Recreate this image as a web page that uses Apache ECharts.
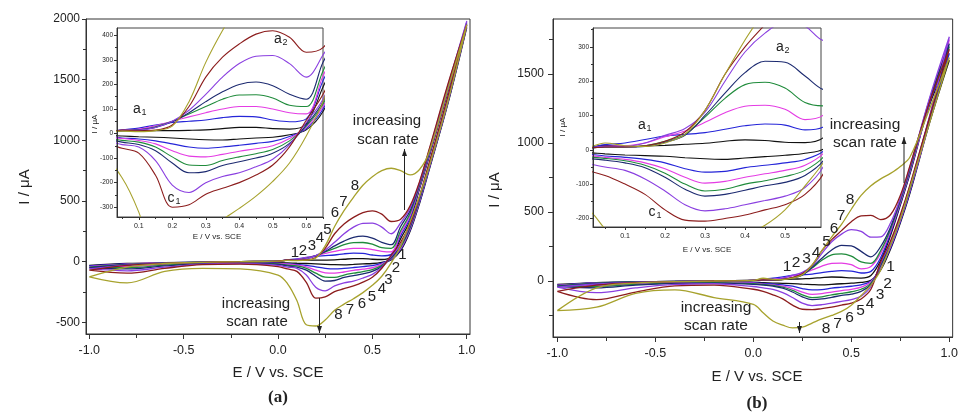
<!DOCTYPE html>
<html><head><meta charset="utf-8">
<script src="https://cdn.jsdelivr.net/npm/echarts@6/dist/echarts.min.js"></script>
<style>html,body{margin:0;padding:0;background:#fff}#c{width:961px;height:415px}</style>
</head><body><div id="c"></div>
<script>
// ---------- DATA ----------
// potential grid (V vs. SCE) shared by every curve
const X_GRID = [-1.0, -0.8, -0.6, -0.4, -0.2, 0.0, 0.05, 0.1, 0.15, 0.2, 0.25, 0.3, 0.35, 0.4, 0.45, 0.5, 0.55, 0.6, 0.65, 0.7, 0.75, 0.8, 0.9, 1.0];

// Panel (a): anodic (forward) branch currents, µA
const A1_UP = [-30, -15, -8, -3, 0, 5, 12, 12, 12, 12, 13, 15, 20, 25, 25, 20, 18, 40, 190, 340, 600, 860, 1400, 1930];
const A2_UP = [-35, -18, -10, -4, 0, 5, 15, 22, 35, 45, 50, 55, 65, 70, 68, 55, 48, 60, 215, 360, 610, 870, 1410, 1940];
const A3_UP = [-40, -20, -10, -5, 0, 5, 13, 18, 32, 50, 68, 85, 100, 110, 110, 100, 85, 80, 235, 380, 620, 880, 1420, 1950];
const A4_UP = [-45, -22, -12, -5, 0, 5, 12, 15, 28, 50, 80, 110, 140, 157, 158, 145, 115, 110, 255, 400, 630, 890, 1430, 1960];
const A5_UP = [-50, -25, -12, -5, 0, 5, 12, 15, 25, 48, 85, 130, 170, 200, 210, 195, 160, 140, 290, 420, 640, 900, 1440, 1970];
const A6_UP = [-60, -28, -14, -6, 0, 5, 12, 14, 25, 50, 95, 160, 230, 285, 315, 318, 285, 230, 320, 440, 650, 910, 1450, 1980];
const A7_UP = [-70, -30, -15, -6, 0, 5, 14, 11, 14, 35, 110, 230, 311, 365, 405, 419, 392, 331, 350, 460, 660, 920, 1460, 1950];
const A8_UP = [-125, -45, -15, -5, 0, 5, 10, 8, 12, 30, 130, 290, 420, 530, 630, 700, 750, 770, 750, 715, 760, 900, 1420, 1950];
// Panel (a): cathodic (reverse) branch currents, µA
const A1_DOWN = [-30, -25, -15, -8, -5, -8, -10, -13, -15, -18, -22, -25, -26, -22, -18, -15, -5, 15, 90, 250, 480, 750, 1300, 1930];
const A2_DOWN = [-35, -30, -18, -10, -7, -12, -18, -22, -30, -42, -55, -60, -55, -48, -40, -32, -12, 20, 100, 260, 490, 760, 1310, 1940];
const A3_DOWN = [-40, -40, -22, -12, -8, -15, -20, -28, -42, -70, -92, -95, -85, -72, -62, -50, -20, 25, 110, 270, 500, 770, 1320, 1950];
const A4_DOWN = [-45, -50, -28, -14, -10, -18, -28, -35, -55, -95, -128, -130, -110, -95, -82, -65, -30, 30, 120, 280, 510, 780, 1330, 1960];
const A5_DOWN = [-50, -60, -35, -16, -12, -22, -35, -45, -70, -120, -160, -155, -130, -115, -100, -80, -40, 35, 130, 290, 520, 790, 1340, 1970];
const A6_DOWN = [-60, -75, -45, -20, -15, -30, -45, -55, -110, -210, -240, -200, -175, -160, -135, -105, -45, 45, 140, 300, 530, 800, 1350, 1980];
const A7_DOWN = [-70, -95, -55, -25, -20, -40, -60, -80, -170, -300, -290, -247, -223, -200, -169, -128, -54, 54, 160, 310, 540, 810, 1360, 1950];
const A8_DOWN = [-125, -175, -80, -55, -60, -110, -180, -320, -520, -530, -480, -400, -350, -305, -255, -195, -120, -10, 130, 330, 540, 780, 1320, 1950];

// Panel (b): anodic branch currents, µA
const B1_UP = [-25, -12, -6, -3, 0, 5, 13, 10, 11, 13, 16, 19, 25, 29, 27, 22, 21, 40, 150, 330, 550, 780, 1280, 1600];
const B2_UP = [-30, -14, -6, -3, 0, 5, 15, 20, 30, 40, 45, 50, 60, 70, 75, 72, 58, 70, 170, 345, 560, 790, 1290, 1650];
const B3_UP = [-32, -15, -7, -3, 0, 5, 10, 12, 20, 38, 55, 80, 108, 127, 130, 118, 88, 105, 200, 360, 570, 800, 1300, 1750];
const B4_UP = [-35, -16, -7, -3, 0, 5, 8, 8, 12, 25, 45, 95, 150, 190, 197, 180, 138, 128, 220, 375, 580, 810, 1310, 1700];
const B5_UP = [-40, -18, -8, -3, 0, 5, 8, 8, 10, 22, 42, 100, 165, 225, 258, 255, 215, 175, 250, 390, 590, 820, 1320, 1720];
const B6_UP = [-45, -22, -10, -4, 0, 5, 10, 10, 20, 42, 62, 110, 200, 285, 340, 372, 360, 318, 320, 420, 600, 830, 1330, 1770];
const B7_UP = [-75, -30, -12, -5, 0, 5, 8, 8, 12, 25, 52, 115, 220, 300, 365, 430, 472, 475, 445, 480, 620, 840, 1300, 1680];
const B8_UP = [-215, -50, -15, -5, 0, 5, 20, 12, 10, 20, 45, 115, 220, 320, 410, 520, 620, 690, 740, 780, 830, 900, 1250, 1620];
// Panel (b): cathodic branch currents, µA
const B1_DOWN = [-25, -25, -15, -8, -6, -8, -12, -15, -17, -19, -23, -26, -28, -24, -20, -16, -10, 5, 80, 230, 420, 640, 1150, 1600];
const B2_DOWN = [-30, -30, -18, -10, -8, -12, -18, -22, -28, -38, -55, -65, -63, -52, -45, -38, -28, 0, 90, 240, 430, 650, 1160, 1650];
const B3_DOWN = [-32, -35, -22, -12, -10, -16, -22, -28, -38, -55, -80, -97, -92, -80, -70, -60, -45, -5, 100, 250, 440, 660, 1170, 1750];
const B4_DOWN = [-35, -40, -25, -15, -12, -20, -25, -32, -45, -68, -100, -120, -115, -100, -90, -78, -60, -15, 110, 260, 450, 670, 1180, 1700];
const B5_DOWN = [-40, -50, -30, -18, -15, -25, -30, -38, -52, -80, -115, -135, -130, -118, -105, -95, -75, -25, 120, 270, 460, 680, 1190, 1720];
const B6_DOWN = [-45, -85, -50, -25, -20, -40, -50, -60, -85, -120, -160, -178, -172, -160, -148, -135, -110, -40, 130, 280, 470, 690, 1200, 1770];
const B7_DOWN = [-75, -135, -80, -35, -30, -60, -75, -100, -130, -175, -205, -208, -200, -190, -175, -160, -130, -60, 140, 290, 480, 700, 1190, 1680];
const B8_DOWN = [-215, -190, -90, -65, -120, -170, -230, -290, -320, -340, -335, -305, -275, -250, -220, -175, -105, -30, 80, 260, 450, 680, 1150, 1620];

// tick values
const MAIN_X_LABELS = [-1.0, -0.5, 0.0, 0.5, 1.0];
const MAIN_X_MINOR = [-0.75, -0.25, 0.25, 0.75];
const A_Y_LABELS = [-500, 0, 500, 1000, 1500, 2000];
const A_Y_MINOR = [-250, 250, 750, 1250, 1750];
const B_Y_LABELS = [0, 500, 1000, 1500];
const B_Y_MINOR = [-250, 250, 750, 1250, 1750];
const A_IN_X_LABELS = [0.1, 0.2, 0.3, 0.4, 0.5, 0.6];
const A_IN_X_MINOR = [0.05, 0.15, 0.25, 0.35, 0.45, 0.55, 0.65];
const A_IN_Y_LABELS = [-300, -200, -100, 0, 100, 200, 300, 400];
const A_IN_Y_MINOR = [-250, -150, -50, 50, 150, 250, 350];
const B_IN_X_LABELS = [0.1, 0.2, 0.3, 0.4, 0.5];
const B_IN_X_MINOR = [0.05, 0.15, 0.25, 0.35, 0.45, 0.55];
const B_IN_Y_LABELS = [-200, -100, 0, 100, 200, 300];
const B_IN_Y_MINOR = [-150, -50, 50, 150, 250, 350];

// curve labels (scan-rate numbers)
const CURVE_NAMES = ['1', '2', '3', '4', '5', '6', '7', '8'];

// ---------- STYLE ----------
const COLORS = ['#111111', '#2525d8', '#e43ce4', '#1f8b3b', '#1c2a70', '#8a3fe0', '#8c1d1d', '#a7a22d'];
const FONT = '"Liberation Sans", Arial, sans-serif';

const A_UP = [A1_UP, A2_UP, A3_UP, A4_UP, A5_UP, A6_UP, A7_UP, A8_UP];
const A_DOWN = [A1_DOWN, A2_DOWN, A3_DOWN, A4_DOWN, A5_DOWN, A6_DOWN, A7_DOWN, A8_DOWN];
const B_UP = [B1_UP, B2_UP, B3_UP, B4_UP, B5_UP, B6_UP, B7_UP, B8_UP];
const B_DOWN = [B1_DOWN, B2_DOWN, B3_DOWN, B4_DOWN, B5_DOWN, B6_DOWN, B7_DOWN, B8_DOWN];

function loop(up, down) {
  const pts = X_GRID.map((x, i) => [x, up[i]]);
  for (let i = X_GRID.length - 1; i >= 0; i--) pts.push([X_GRID[i], down[i]]);
  return pts;
}

const grids = [
  { left: 86, top: 19, width: 384, height: 315, show: true, borderColor: '#333', borderWidth: 1, z: 0 },
  { left: 117, top: 28, width: 206, height: 189, show: true, backgroundColor: '#fff', borderColor: '#444', borderWidth: 1, z: 10 },
  { left: 553, top: 19, width: 405, height: 318, show: true, borderColor: '#333', borderWidth: 1, z: 0 },
  { left: 593, top: 28, width: 228, height: 199, show: true, backgroundColor: '#fff', borderColor: '#444', borderWidth: 1, z: 10 }
];

function axis(o) {
  return {
    type: 'value', gridIndex: o.grid, min: o.min, max: o.max, position: o.pos, z: o.z || 1,
    axisLine: { show: !!o.line, onZero: false, lineStyle: { color: '#333', width: 1 } },
    axisTick: { show: true, inside: false, length: o.tl, customValues: o.ticks, lineStyle: { color: '#333', width: 1 } },
    axisLabel: o.labels ? { show: true, customValues: o.labels, margin: o.margin, fontSize: o.fs, color: '#222', fontFamily: FONT,
      formatter: o.fmt } : { show: false },
    splitLine: { show: false }
  };
}
const f1 = v => (Math.abs(v) < 1e-9 ? 0 : v).toFixed(1);
const f0 = v => String(Math.round(v));

const xAxes = [
  axis({ grid: 0, min: -1.0175, max: 1.0175, pos: 'bottom', line: true, tl: 5, ticks: MAIN_X_LABELS, labels: MAIN_X_LABELS, margin: 10, fs: 12.5, fmt: f1 }),
  axis({ grid: 0, min: -1.0175, max: 1.0175, pos: 'bottom', tl: 4, ticks: MAIN_X_MINOR }),
  axis({ grid: 1, min: 0.035, max: 0.65, pos: 'bottom', line: true, tl: 3, ticks: A_IN_X_LABELS, labels: A_IN_X_LABELS, margin: 6, fs: 7, fmt: f1, z: 12 }),
  axis({ grid: 1, min: 0.035, max: 0.65, pos: 'bottom', tl: 2, ticks: A_IN_X_MINOR, z: 12 }),
  axis({ grid: 2, min: -1.022, max: 1.017, pos: 'bottom', line: true, tl: 5, ticks: MAIN_X_LABELS, labels: MAIN_X_LABELS, margin: 10, fs: 12.5, fmt: f1 }),
  axis({ grid: 2, min: -1.022, max: 1.017, pos: 'bottom', tl: 4, ticks: MAIN_X_MINOR }),
  axis({ grid: 3, min: 0.02, max: 0.59, pos: 'bottom', line: true, tl: 3, ticks: B_IN_X_LABELS, labels: B_IN_X_LABELS, margin: 6, fs: 7, fmt: f1, z: 12 }),
  axis({ grid: 3, min: 0.02, max: 0.59, pos: 'bottom', tl: 2, ticks: B_IN_X_MINOR, z: 12 })
];
const yAxes = [
  axis({ grid: 0, min: -596, max: 2000, pos: 'left', line: true, tl: 4, ticks: A_Y_LABELS, labels: A_Y_LABELS, margin: 6, fs: 12, fmt: f0 }),
  axis({ grid: 0, min: -596, max: 2000, pos: 'left', tl: 3, ticks: A_Y_MINOR }),
  axis({ grid: 1, min: -340, max: 430, pos: 'left', line: true, tl: 3, ticks: A_IN_Y_LABELS, labels: A_IN_Y_LABELS, margin: 4, fs: 6.5, fmt: f0, z: 12 }),
  axis({ grid: 1, min: -340, max: 430, pos: 'left', tl: 2, ticks: A_IN_Y_MINOR, z: 12 }),
  axis({ grid: 2, min: -406, max: 1899, pos: 'left', line: true, tl: 5, ticks: B_Y_LABELS, labels: B_Y_LABELS, margin: 9, fs: 12, fmt: f0 }),
  axis({ grid: 2, min: -406, max: 1899, pos: 'left', tl: 4, ticks: B_Y_MINOR }),
  axis({ grid: 3, min: -225, max: 355, pos: 'left', line: true, tl: 3, ticks: B_IN_Y_LABELS, labels: B_IN_Y_LABELS, margin: 4, fs: 6.5, fmt: f0, z: 12 }),
  axis({ grid: 3, min: -225, max: 355, pos: 'left', tl: 2, ticks: B_IN_Y_MINOR, z: 12 })
];

const series = [];
function addPanel(ups, downs, mainAx, insetAx) {
  for (let k = 0; k < 8; k++) {
    const d = loop(ups[k], downs[k]);
    series.push({ type: 'line', name: CURVE_NAMES[k], xAxisIndex: mainAx, yAxisIndex: mainAx, data: d, showSymbol: false,
      smooth: 0.35, lineStyle: { color: COLORS[k], width: 1.3 }, z: 2, animation: false, silent: true });
    series.push({ type: 'line', name: CURVE_NAMES[k], xAxisIndex: insetAx, yAxisIndex: insetAx, data: d, showSymbol: false,
      smooth: 0.35, lineStyle: { color: COLORS[k], width: 1.1 }, z: 11, animation: false, silent: true });
  }
}
addPanel(A_UP, A_DOWN, 0, 2);
addPanel(B_UP, B_DOWN, 4, 6);

// ---------- ANNOTATIONS ----------
const G = [];
function txt(x, y, s, size, extra) {
  G.push(Object.assign({ type: 'text', x: x, y: y, z: 100,
    style: Object.assign({ text: s, font: size + 'px ' + FONT, fill: '#222', align: 'center', verticalAlign: 'middle',
      textAlign: 'center', textVerticalAlign: 'middle' }, (extra && extra.style) || {}) }, extra && extra.rotation ? { rotation: extra.rotation } : {}));
}
function sub(x, y, base, s) {
  txt(x, y, base, 14);
  txt(x + 7, y + 4, s, 9);
}
function arrow(x, y1, y2) {
  G.push({ type: 'line', z: 100, shape: { x1: x, y1: y1, x2: x, y2: y2 }, style: { stroke: '#222', lineWidth: 1 } });
  const dir = y2 < y1 ? 1 : -1;
  G.push({ type: 'polygon', z: 100, shape: { points: [[x, y2], [x - 2.5, y2 + dir * 7], [x + 2.5, y2 + dir * 7]] }, style: { fill: '#222' } });
}
const R = Math.PI / 2;
// panel a
txt(25, 187, 'I / μA', 15, { rotation: R });
txt(278, 373, 'E / V vs. SCE', 15);
txt(278, 398, '(a)', 17, { style: { font: 'bold 17px "Liberation Serif", "Times New Roman", serif' } });
txt(95, 124, 'I / μA', 8, { rotation: R });
txt(217, 237, 'E / V vs. SCE', 8);
sub(137, 109, 'a', '1'); sub(278, 39, 'a', '2'); sub(171, 198, 'c', '1');
const A_UP_POS = [[295, 253], [303, 250.5], [312, 246], [320, 237.5], [327.5, 229.5], [335, 213], [343.5, 201.5], [355, 186]];
const A_DN_POS = [[402.5, 255], [396, 267.5], [388.5, 280], [382, 288.5], [372, 297], [362, 303.5], [350, 309.5], [338.5, 315]];
CURVE_NAMES.forEach((n, i) => { txt(A_UP_POS[i][0], A_UP_POS[i][1], n, 15); txt(A_DN_POS[i][0], A_DN_POS[i][1], n, 15); });
txt(387, 121, 'increasing', 15); txt(388, 140, 'scan rate', 15);
txt(256, 304, 'increasing', 15); txt(257, 322, 'scan rate', 15);
arrow(404.5, 210, 149);
arrow(319.5, 298, 333);
// panel b
txt(495, 190, 'I / μA', 15, { rotation: R });
txt(757, 377, 'E / V vs. SCE', 15);
txt(757, 404, '(b)', 17, { style: { font: 'bold 17px "Liberation Serif", "Times New Roman", serif' } });
txt(563, 127, 'I / μA', 8, { rotation: R });
txt(707, 250, 'E / V vs. SCE', 8);
sub(642, 125, 'a', '1'); sub(780, 47, 'a', '2'); sub(652, 212, 'c', '1');
const B_UP_POS = [[787, 266.5], [796, 263], [806.5, 258.5], [816, 252.5], [826.5, 241.5], [834, 228.5], [841, 216], [850, 200]];
const B_DN_POS = [[890.5, 266.5], [887.5, 283.5], [880, 295], [870, 303.5], [860.5, 310.5], [849.5, 317.5], [837.5, 324], [826, 328.5]];
CURVE_NAMES.forEach((n, i) => { txt(B_UP_POS[i][0], B_UP_POS[i][1], n, 15.5); txt(B_DN_POS[i][0], B_DN_POS[i][1], n, 15.5); });
txt(865, 125, 'increasing', 15.5); txt(865, 143, 'scan rate', 15.5);
txt(716, 308, 'increasing', 15.5); txt(716, 326, 'scan rate', 15.5);
arrow(904, 183, 137);
arrow(799.5, 322, 333);

const chart = echarts.init(document.getElementById('c'), null, { renderer: 'canvas' });
chart.setOption({
  animation: false,
  backgroundColor: '#fff',
  grid: grids,
  xAxis: xAxes,
  yAxis: yAxes,
  series: series,
  graphic: G
});
</script></body></html>
